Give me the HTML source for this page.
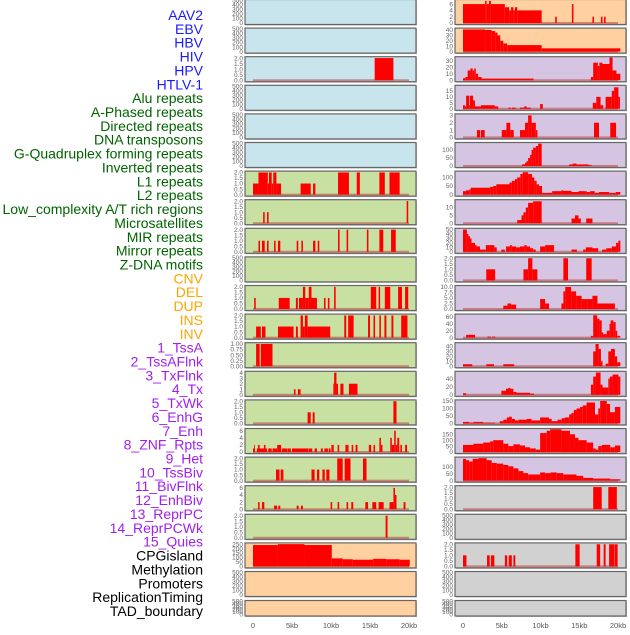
<!DOCTYPE html>
<html><head><meta charset="utf-8">
<style>
html,body{margin:0;padding:0;background:#fff;}
body{width:630px;height:630px;overflow:hidden;font-family:"Liberation Sans",sans-serif;}
svg text{font-family:"Liberation Sans",sans-serif;}
</style></head>
<body>
<svg id="chart" width="630" height="630" viewBox="0 0 630 630" xmlns="http://www.w3.org/2000/svg"></svg>
<script>
// ---- data ----
const trackLabels = ["AAV2","EBV","HBV","HIV","HPV","HTLV-1","Alu repeats","A-Phased repeats","Directed repeats","DNA transposons","G-Quadruplex forming repeats","Inverted repeats","L1 repeats","L2 repeats","Low_complexity A/T rich regions","Microsatellites","MIR repeats","Mirror repeats","Z-DNA motifs","CNV","DEL","DUP","INS","INV","1_TssA","2_TssAFlnk","3_TxFlnk","4_Tx","5_TxWk","6_EnhG","7_Enh","8_ZNF_Rpts","9_Het","10_TssBiv","11_BivFlnk","12_EnhBiv","13_ReprPC","14_ReprPCWk","15_Quies","CPGisland","Methylation","Promoters","ReplicationTiming","TAD_boundary"];
const labelColors = ["#1a1aff","#1a1aff","#1a1aff","#1a1aff","#1a1aff","#1a1aff","#006400","#006400","#006400","#006400","#006400","#006400","#006400","#006400","#006400","#006400","#006400","#006400","#006400","#ffa500","#ffa500","#ffa500","#ffa500","#ffa500","#a020f0","#a020f0","#a020f0","#a020f0","#a020f0","#a020f0","#a020f0","#a020f0","#a020f0","#a020f0","#a020f0","#a020f0","#a020f0","#a020f0","#a020f0","#000","#000","#000","#000","#000"];
const xTickValues = [0,5,10,15,20];
const xTickLabels = ["0","5kb","10kb","15kb","20kb"];
const E = [0,100,200,300,400,500];
const T2 = [0,0.5,1,1.5,2];
const leftBg = ["b","b","b","b","b","b","g","g","g","g","g","g","g","g","g","g","g","g","g","o","o","o"];
const rightBg = ["o","o","p","p","p","p","p","p","p","p","p","p","p","p","p","p","p","q","q","q","q","q"];
const leftTicks = [E,E,T2,E,E,E,T2,T2,T2,E,T2,T2,[0,0.25,0.5,0.75,1],[0,1,2,3,4],T2,[0,2,4,6],T2,[0,2,4,6],T2,[0,50,100,150,200,250],E,E];
const leftTickText = [null,null,["0.0","0.5","1.0","1.5","2.0"],null,null,null,"f1","f1","f1",null,"f1","f1",["0.00","0.25","0.50","0.75","1.00"],null,"f1",null,"f1",null,"f1",null,null,null];
const leftMax = [500,500,2.05,500,500,500,2.05,2.05,2.05,500,2.05,2.05,1.02,4.1,2.05,6.4,2.05,6.4,2.05,255,500,500];
const leftData = [
 [],[],
 [[15.6,18.0,2]],
 [],[],[],
 [[0,0.7,1],[0.7,1.9,2],[1.9,2.05,1],[2.05,2.4,2],[2.4,2.6,1],[2.6,3.0,2],[3.0,3.6,1],[6.1,7.4,1],[7.7,8.0,1],[10.9,12.3,2],[13.3,13.7,2],[16.2,16.9,2],[17.5,18.8,2]],
 [[1.3,1.5,1],[1.8,2.0,1],[19.7,19.9,2]],
 [[0.7,0.9,1],[1.15,1.5,1],[1.8,2.0,1],[2.7,2.9,1],[3.2,3.5,1],[5.6,5.8,1],[6.2,6.4,1],[7.7,8.0,1],[8.3,8.5,1],[10.9,11.1,2],[12.0,12.2,2],[14.6,14.8,2],[16.2,16.7,2],[17.7,18.3,2]],
 [],
 [[0.15,0.35,1],[3.3,4.7,1],[5.5,5.75,1],[5.9,6.4,1],[6.4,6.7,2],[6.7,7.15,1],[7.15,7.5,2],[7.5,8.2,1],[9.1,9.3,1],[9.6,9.8,1],[10.4,10.6,2],[15.1,15.8,2],[16.1,16.3,2],[16.9,17.6,2],[18.6,19.1,2],[19.5,19.9,2]],
 [[0.4,1.0,1],[1.15,1.6,1],[3.2,5.2,1],[5.5,5.75,1],[6.1,6.4,2],[6.4,6.65,1],[6.65,7.0,2],[7.0,7.5,1],[7.5,9.9,1],[11.7,11.95,2],[12.2,12.9,2],[14.75,15.0,2],[15.45,15.65,2],[16.2,16.4,2],[16.85,17.1,2],[17.75,18.0,2],[19.0,19.8,2]],
 [[0.4,0.85,1],[1.0,2.5,1]],
 [[5.25,5.45,1],[5.75,6.1,1],[10.3,10.4,2],[10.4,10.7,4],[10.7,10.9,2],[11.2,11.6,2],[12.3,13.4,2]],
 [[7.0,7.4,1],[7.65,7.9,1],[18.0,18.4,2]],
 [[0,0.25,1],[0.15,0.25,2],[0.5,1.8,1],[0.65,0.85,2],[1.4,1.6,2],[1.95,2.4,1],[2.5,3.1,1],[3.1,3.6,2],[3.7,4.4,1],[4.45,4.85,1],[5.0,7.1,1],[7.15,7.6,1],[7.9,8.2,1],[8.7,8.95,1],[9.15,9.6,1],[9.7,9.95,1],[10.05,10.35,2],[10.85,11.05,2],[11.85,12.25,2],[12.65,12.85,2],[13.15,13.4,2],[14.85,15.15,2],[15.45,15.65,2],[16.2,16.4,4],[16.4,16.6,2],[17.6,17.8,4],[17.8,18.1,2],[18.1,18.3,6],[18.3,18.5,2],[18.5,18.75,4],[18.9,19.1,2],[19.5,19.75,2]],
 [[2.95,3.4,1],[3.55,3.9,1],[7.5,7.9,1],[8.2,8.5,1],[8.9,9.2,1],[9.4,9.8,1],[10.8,11.5,2],[11.75,12.5,2],[14.1,14.55,2]],
 [[0.65,0.85,2],[1.15,1.45,2],[2.7,3.1,1],[3.25,3.5,1],[5.6,5.85,1],[6.15,6.4,1],[9.95,10.15,2],[10.85,11.05,2],[12.0,12.2,2],[12.6,12.85,2],[14.4,14.75,2],[15.3,15.8,2],[16.1,16.75,2],[17.5,18.0,2],[18.0,18.2,6],[18.2,18.4,4],[19.3,19.55,2]],
 [[17.0,17.25,2]],
 [[0,3.2,240],[3.2,6.6,250],[6.6,10.1,240],[10.1,11.5,90],[11.5,12.8,80],[12.8,15.4,75],[15.4,17.1,85],[17.1,18.8,80],[18.8,20.1,75]],
 [],[]
];
const rightTicks = [[0,2,4,6],[0,10,20,30,40],[0,10,20,30],[0,5,10,15],[0,1,2,3],[0,50,100],[0,50,100],[0,5,10],[0,10,20,30,40,50],T2,[0,2.5,5,7.5,10],[0,20,40,60],[0,10,20,30,40],[0,20,40],[0,50,100,150],[0,50,100,150],[0,50,100],T2,E,T2,E,E];
const rightTickText = [null,null,null,null,null,null,null,null,null,"f1","f1",null,null,null,null,null,null,"f1",null,"f1",null,null];
const rightMax = [7.2,42,35,19,3.1,142,132,14.5,51,2.05,10.3,66,46,56,152,192,167,2.05,500,2.05,500,500];
const rightData = [
 [[0,2.85,6],[2.85,3.05,7],[3.05,3.35,6],[3.35,3.6,7],[3.6,5.4,6],[5.4,5.95,5],[5.95,6.2,4],[6.2,6.5,5],[6.5,6.7,4],[6.7,7.0,5],[7.0,10.15,4],[11.9,12.1,2],[14.05,14.25,6],[16.7,16.9,2],[17.8,18.0,2],[18.2,18.4,2]],
 [[0,2.85,41],[2.85,3.7,40],[3.7,4.15,38],[4.15,4.45,35],[4.45,4.8,30],[4.8,5.2,20],[5.2,5.7,15],[5.7,10.15,12],[10.15,20.3,6]],
 [[0,0.3,3],[0.3,0.6,5],[0.6,0.95,15],[0.95,1.25,18],[1.25,1.45,15],[1.45,1.65,18],[1.65,1.95,10],[1.95,2.4,5],[2.4,9.1,2.5],[16.5,16.8,5],[16.8,17.4,27],[17.4,17.6,22],[17.6,18.0,27],[18.0,18.9,25],[18.9,19.3,35],[19.3,19.8,15],[19.8,20.3,10]],
 [[0,0.25,3],[0.25,0.4,2],[0.4,0.8,11],[0.8,0.9,3],[0.9,1.3,11],[1.3,1.55,7],[1.55,2.3,2],[2.3,4.1,3],[4.1,4.55,2],[5.85,6.15,1],[6.3,6.8,1],[7.35,7.9,1],[7.9,8.2,2],[8.2,8.75,1],[9.95,10.3,4],[16.75,17.2,5],[17.2,17.75,10],[17.75,18.1,3],[18.4,19.2,10],[19.2,19.5,15],[19.5,20.05,18],[20.05,20.25,10]],
 [[1.8,2.2,1],[2.3,2.8,1],[5.0,5.6,1],[5.6,6.1,2],[6.1,6.55,1],[7.35,8.0,1],[8.0,8.4,2],[8.4,8.85,3],[8.85,9.4,2],[9.4,9.6,1],[16.9,17.55,2],[19.0,19.75,2]],
 [[7.6,8.0,10],[8.0,8.2,20],[8.2,8.4,30],[8.4,8.65,50],[8.65,8.85,70],[8.85,9.05,100],[9.05,9.4,115],[9.4,9.7,125],[9.7,10.15,140],[13.7,14.15,10],[14.15,14.65,15],[14.65,16.2,10],[16.2,16.6,5]],
 [[0,0.4,20],[0.4,0.8,25],[0.8,1.0,30],[1.0,3.5,40],[3.5,3.9,45],[3.9,4.3,50],[4.3,6.0,60],[6.0,6.3,70],[6.3,6.7,80],[6.7,7.0,90],[7.0,7.4,100],[7.4,7.7,120],[7.7,8.4,130],[8.4,8.9,120],[8.9,9.2,100],[9.2,9.5,80],[9.5,9.8,60],[9.8,10.2,50],[10.2,11.5,10],[11.5,12.7,20],[12.7,12.9,25],[12.9,14.0,22],[14.0,14.9,15],[14.9,15.95,20],[15.95,16.4,15],[16.4,17.0,20],[17.0,17.55,10],[17.55,18.85,15],[18.85,19.7,10],[19.7,20.3,15]],
 [[7.0,7.55,2],[7.55,7.8,5],[7.8,8.1,7],[8.1,8.4,10],[8.4,9.05,13],[9.05,10.15,14],[14.0,14.45,3],[14.45,14.9,5],[14.9,15.2,3],[15.9,16.7,3]],
 [[0,0.5,50],[0.5,0.7,40],[0.7,0.9,35],[0.9,1.1,30],[1.1,1.55,20],[1.55,1.75,15],[1.75,2.2,12],[2.2,2.95,5],[2.95,4.05,15],[4.05,4.35,10],[4.95,5.4,5],[5.55,6.05,12],[6.05,6.3,15],[6.3,6.85,12],[6.85,7.35,10],[7.35,7.9,12],[7.9,8.2,15],[8.2,8.65,12],[8.65,9.05,8],[9.05,9.4,5],[9.95,10.6,12],[10.6,11.75,15],[14.0,14.7,5],[15.5,15.85,5],[15.85,16.7,10],[16.7,17.45,8],[17.95,18.5,5],[18.5,19.2,8],[19.2,19.75,12],[19.75,20.05,20],[20.05,20.3,25]],
 [[3.0,4.15,1],[7.8,8.4,1],[8.4,8.95,2],[8.95,9.6,1],[12.95,13.55,2],[15.9,16.6,2]],
 [[5.2,5.75,1.5],[5.75,6.2,2.5],[6.2,6.85,2],[9.95,10.6,4.5],[10.6,11.1,2.5],[12.7,13.0,2.5],[12.95,13.2,8],[13.2,13.95,10],[13.95,14.6,8],[14.6,15.3,6],[15.3,16.05,4.5],[16.05,16.7,4.5],[16.7,17.35,6],[17.35,19.6,2.5]],
 [[0.4,1.55,8],[3.15,3.6,3],[3.75,4.15,3],[16.5,16.8,5],[16.8,17.3,65],[17.3,17.6,55],[17.6,17.9,50],[17.9,18.1,15],[18.1,18.55,10],[18.55,18.9,20],[18.9,19.05,40],[19.05,19.4,50],[19.4,19.7,45],[19.7,19.9,20],[19.9,20.3,5]],
 [[0,1.2,4],[3.0,4.0,4],[5.2,6.6,4],[16.8,17.1,30],[17.1,17.5,45],[17.5,17.8,35],[17.8,18.0,10],[18.4,18.75,5],[18.75,19.1,30],[19.1,19.6,35],[19.6,19.9,20],[19.9,20.3,8]],
 [[0,0.4,4],[4.95,5.55,10],[5.55,6.5,15],[5.85,6.1,17],[6.5,6.9,7],[6.9,8.65,5],[8.65,9.15,3],[16.5,16.8,25],[16.8,17.15,45],[17.15,17.75,55],[17.75,18.0,25],[18.0,18.75,18],[18.75,18.95,40],[18.95,19.3,45],[19.3,20.05,50],[20.05,20.3,45]],
 [[0,0.8,10],[0.8,1.35,5],[1.35,2.6,10],[2.6,4.1,5],[4.75,5.2,15],[5.2,5.65,25],[5.65,5.95,40],[5.95,6.3,45],[6.3,6.7,30],[6.7,7.15,20],[7.15,8.2,25],[8.2,8.85,30],[8.85,9.95,20],[9.95,11.1,40],[11.1,11.45,30],[11.45,12.2,15],[12.2,12.74,25],[12.74,13.15,35],[13.15,13.7,40],[13.7,14.0,60],[14.0,14.3,70],[14.3,14.65,90],[14.65,15.1,100],[15.1,15.45,110],[15.45,15.95,120],[15.95,17.03,140],[17.03,17.45,60],[17.45,17.7,100],[17.7,18.55,150],[18.55,18.97,130],[18.97,19.6,75],[19.6,20.3,110]],
 [[0,1.35,60],[1.35,2.6,70],[2.6,3.5,80],[3.5,3.9,90],[3.9,5.2,100],[5.2,5.85,70],[5.85,6.5,50],[6.5,7.35,65],[7.35,8.0,55],[8.0,8.65,40],[8.65,9.4,30],[9.4,9.95,20],[9.95,10.8,160],[10.8,11.25,180],[11.25,12.7,192],[12.7,13.8,180],[13.8,14.45,150],[14.45,14.9,120],[14.9,15.95,100],[15.95,16.8,80],[16.8,17.1,30],[17.1,17.45,20],[17.45,17.9,50],[17.9,19.0,60],[19.0,19.6,40],[19.6,20.3,55]],
 [[0,0.4,160],[0.4,0.8,150],[0.8,1.25,140],[1.25,2.0,160],[2.0,3.05,165],[3.05,3.7,150],[3.7,4.35,130],[4.35,5.2,125],[5.2,5.85,115],[5.85,6.5,105],[6.5,7.15,90],[7.15,7.8,70],[7.8,8.4,55],[8.4,9.95,45],[9.95,10.6,60],[10.6,11.3,55],[11.3,12.1,60],[12.1,12.95,55],[12.95,14.65,45],[14.65,15.5,35],[15.5,16.8,20],[16.8,19.0,15],[19.0,20.3,10]],
 [[16.8,17.9,2],[18.75,19.85,2]],
 [],
 [[0,0.45,1],[3.1,3.45,1],[3.6,4.05,1],[5.4,5.7,1],[5.9,6.3,1],[6.5,6.75,1],[14.5,15.05,2],[17.25,17.7,2],[18.15,18.4,2],[18.85,19.55,2],[19.6,19.95,2]],
 [],[]
];
</script>
<script>
const NS="http://www.w3.org/2000/svg";
const svg=document.getElementById('chart');
const bgColors={b:"#c8e4ec",g:"#c8e0a2",o:"#ffd0a0",p:"#d5c5e2",q:"#d1d1d1"};
function mk(tag,attrs,parent){const e=document.createElementNS(NS,tag);for(const k in attrs)e.setAttribute(k,attrs[k]);(parent||svg).appendChild(e);return e;}
// labels
const LSP=13.86;
trackLabels.forEach((t,i)=>{
  const el=mk('text',{x:203,y:15+i*LSP+5,'text-anchor':'end','font-size':'14',fill:labelColors[i]});
  el.textContent=t;
  
  
});
function rowGeom(k){
  if(k===0) return {top:-0.5,h:25};
  if(k===21) return {top:600.5,h:15.5};
  return {top:28.6*k-0.5,h:25};
}
function drawPanel(side,k,bg,ticks,tickText,ymax,segs){
  const px= side==='left'?245:455, pw=171;
  const x0 = side==='left'?253:463, xscale = side==='left'?7.8:7.75;
  const g=rowGeom(k);
  const grp=mk('g',{});
  
  
  mk('rect',{x:px+1,y:g.top+1,width:pw,height:g.h,fill:'#bbb'},grp);
  const r=mk('rect',{x:px,y:g.top,width:pw,height:g.h,fill:bgColors[bg],stroke:'#666','stroke-width':1.2},grp);
  
  
  const yb=g.top+g.h-1.5, yt=g.top+0.8;
  const ys=v=>yb-(Math.min(v,ymax)/ymax)*(yb-yt);
  const xs=v=>x0+v*xscale;
  if(segs.length){
    const bl=mk('line',{x1:xs(0),x2:xs(20),y1:yb,y2:yb,stroke:'rgba(190,60,60,0.55)','stroke-width':2},grp);
    
    
  }
  segs.forEach((s,j)=>{
    const b=mk('rect',{x:xs(s[0]),y:ys(s[2]),width:Math.max(0.8,xs(s[1])-xs(s[0])),height:yb-ys(s[2]),fill:'#ff0000'},grp);
    
    
  });
  ticks.forEach((t,j)=>{
    let lab = tickText==='f1'? t.toFixed(1) : (Array.isArray(tickText)? tickText[j] : String(t));
    const tt=mk('text',{x:px-2,y:ys(t)+2.2,'text-anchor':'end','font-size':'6.5',fill:'#666'},grp);
    tt.textContent=lab;
    
    
  });
}
for(let k=0;k<22;k++){
  drawPanel('left',k,leftBg[k],leftTicks[k],leftTickText[k],leftMax[k],leftData[k]);
  drawPanel('right',k,rightBg[k],rightTicks[k],rightTickText[k],rightMax[k],rightData[k]);
}
['left','right'].forEach(side=>{
  const x0= side==='left'?253:463, xscale= side==='left'?7.8:7.75;
  xTickValues.forEach((v,i)=>{
    const t=mk('text',{x:x0+v*xscale,y:628,'text-anchor':'middle','font-size':'7.5',fill:'#555'});
    t.textContent=xTickLabels[i];
    
    
  });
});
</script>
</body></html>
